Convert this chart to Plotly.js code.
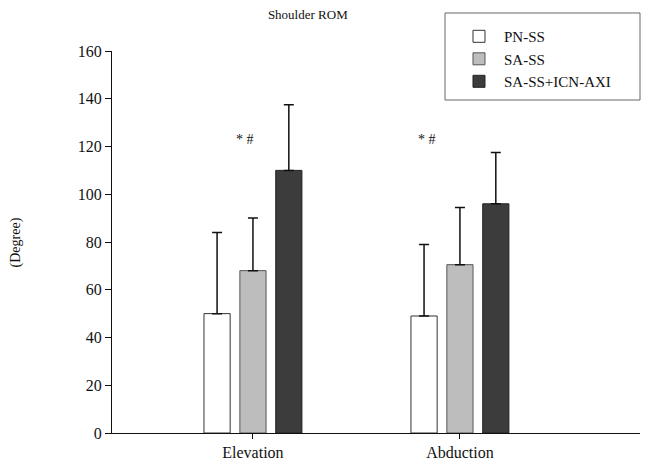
<!DOCTYPE html>
<html>
<head>
<meta charset="utf-8">
<script src="https://cdn.plot.ly/plotly-3.0.1.min.js"></script>
<style>html,body{margin:0;padding:0;background:#fff}#chart{width:648px;height:469px}</style>
</head>
<body>
<div id="chart"></div>
<script>
const categories = ["Elevation", "Abduction"];
const seriesNames = ["PN-SS", "SA-SS", "SA-SS+ICN-AXI"];
const pnss = [50, 49];
const pnssErr = [34, 30];
const sass = [68, 70.5];
const sassErr = [22, 24];
const icn = [110, 96];
const icnErr = [27.5, 21.5];
const sigLabels = ["* #", "* #"];
const sigY = [123, 123];

const serif = "Liberation Serif, Times New Roman, serif";

function mk(name, y, err, fill, line) {
  return {
    type: "bar", name: name, x: categories, y: y,
    marker: {color: fill, line: {color: line, width: 1}},
    error_y: {type: "data", symmetric: false, array: err, arrayminus: [0, 0],
              color: "#111", thickness: 1.5, width: 5}
  };
}

const data = [
  mk(seriesNames[0], pnss, pnssErr, "#ffffff", "#333"),
  mk(seriesNames[1], sass, sassErr, "#bdbdbd", "#555"),
  mk(seriesNames[2], icn, icnErr, "#3c3c3c", "#222")
];

const layout = {
  width: 648, height: 469,
  margin: {l: 112, r: 8, t: 51, b: 36},
  paper_bgcolor: "#fff", plot_bgcolor: "#fff",
  font: {family: serif, size: 15, color: "#111"},
  barmode: "group", bargap: 0.48, bargroupgap: 0.27,
  showlegend: true,
  title: {text: "Shoulder ROM", x: 0.475, xref: "container", y: 0.978, yref: "container",
          yanchor: "top", font: {family: serif, size: 13, color: "#111"}},
  xaxis: {
    type: "category", range: [-0.681, 1.87],
    showline: true, linecolor: "#111", linewidth: 1,
    ticks: "outside", ticklen: 5, tickcolor: "#111",
    showgrid: false, zeroline: false,
    tickfont: {family: serif, size: 16}
  },
  yaxis: {
    range: [0, 160], dtick: 20,
    showline: true, linecolor: "#111", linewidth: 1,
    ticks: "outside", ticklen: 6, tickcolor: "#111",
    showgrid: false, zeroline: false,
    tickfont: {family: serif, size: 16}
  },
  legend: {
    x: 0.6477, y: 1.081, xanchor: "left", yanchor: "top",
    bgcolor: "rgba(0,0,0,0)", borderwidth: 0,
    font: {family: serif, size: 15}, tracegroupgap: 0,
    traceorder: "normal", itemwidth: 40
  },
  shapes: [
    {type: "rect", xref: "paper", yref: "paper", x0: 0.6307, x1: 1.0, y0: 0.8717, y1: 1.0995,
     line: {color: "#666", width: 1}, fillcolor: "rgba(0,0,0,0)", layer: "below"}
  ],
  annotations: [
    {x: -0.04, y: sigY[0], text: sigLabels[0], showarrow: false, xref: "x", yref: "y",
     font: {family: serif, size: 14}},
    {x: 0.84, y: sigY[1], text: sigLabels[1], showarrow: false, xref: "x", yref: "y",
     font: {family: serif, size: 14}},
    {x: -0.2, y: 0.5, xref: "paper", yref: "paper", text: "(Degree)", textangle: -90,
     showarrow: false, font: {family: serif, size: 14}}
  ]
};

Plotly.newPlot("chart", data, layout, {displayModeBar: false, staticPlot: true});
</script>
</body>
</html>
